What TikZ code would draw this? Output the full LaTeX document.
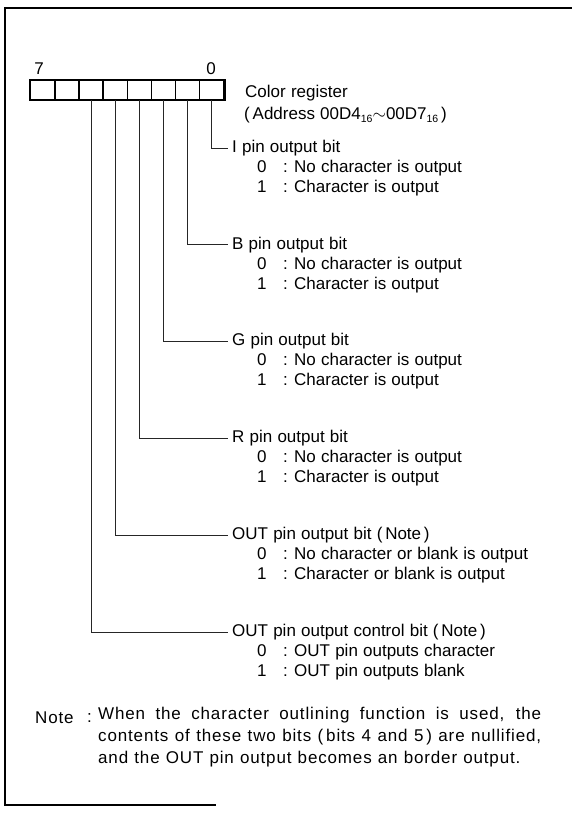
\documentclass[tikz,border=0pt]{standalone}
\usepackage{fontspec}
\setmainfont{Liberation Sans}[WordSpace=1.1]
\newfontfamily\notefont{Liberation Sans}[LetterSpace=5,WordSpace=1.1]
\newcommand{\optrow}[2]{\makebox[26pt][l]{#1}\makebox[11pt][l]{:}#2}
\newcommand{\subn}[1]{\raisebox{-0.35ex}{\fontsize{10.5}{10.5}\selectfont #1}}
\begin{document}
\begin{tikzpicture}[x=1pt,y=-1pt,
  txt/.style={anchor=west,inner sep=0pt,font=\fontsize{17}{19}\selectfont},
  frame/.style={line width=2.2pt,line cap=rect},
  conn/.style={line width=0.9pt,black!85},
  regcell/.style={draw,line width=1.4pt,minimum width=24.125pt,minimum height=19pt,inner sep=0pt,anchor=north west}]
\useasboundingbox (0,0) rectangle (571,813);
% frame
\draw[frame] (571,8) -- (5,8) -- (5,805) -- (215,805);
% register cells
\foreach \i in {0,...,7}{
  \node[regcell] (c\i) at ({30+(7-\i)*24.125},80) {};
}
\draw[line width=2.2pt] (c7.north west) rectangle (c0.south east);
\node[txt,anchor=center] (b7) at (39,69) {7};
\node[txt,anchor=center] (b0) at (211,69) {0};
\node[txt] (reg) at (245,93) {Color register};
\node[txt] (addr) at (244,115) {(\,Address 00D4\subn{16}$\sim$00D7\subn{16}\,)};
% groups
\foreach \i/\lab/\za/\zb [count=\k from 0] in {
  0/I pin output bit/No character is output/Character is output,
  1/B pin output bit/No character is output/Character is output,
  2/G pin output bit/No character is output/Character is output,
  3/R pin output bit/No character is output/Character is output,
  4/OUT pin output bit (\,Note\,)/No character or blank is output/Character or blank is output,
  5/OUT pin output control bit (\,Note\,)/OUT pin outputs character/OUT pin outputs blank}{
  \node[txt] (l\i) at (232,{148+96.8*\k}) {\lab};
  \node[txt] (z\i) at (257,{168+96.8*\k}) {\optrow{0}{\za}};
  \node[txt] (o\i) at (257,{188+96.8*\k}) {\optrow{1}{\zb}};
  \draw[conn] (c\i.south) |- ([xshift=-4pt]l\i.west);
}
% note
\node[txt,font=\notefont\fontsize{17}{19}\selectfont] (note) at (35,718) {Note};
\node[txt] (ncolon) at (87,718) {:};
\node[txt,anchor=north west,text width=443pt,align=justify,font=\notefont\fontsize{17}{22}\selectfont] (ntext) at (98,707)
  {When the character outlining function is used, the\linebreak contents of these two bits (\,bits 4 and 5\,) are nullified,\linebreak and the OUT pin output becomes an border output.\par};
\end{tikzpicture}
\end{document}
